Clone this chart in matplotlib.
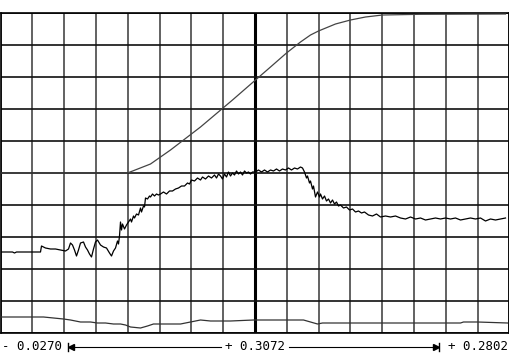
#!/usr/bin/env python
# -*- coding: utf-8 -*-

import matplotlib
matplotlib.use('Agg')
import matplotlib.pyplot as plt
from matplotlib.lines import Line2D
import numpy as np

# screen is 509 samples wide, 320 counts tall (16 x 10 divisions)
X_MAX = 509
Y_MAX = 320
N_XDIV = 16
N_YDIV = 10

# cursor readouts shown under the screen
left_label = '- 0.0270'
mid_label = '+ 0.3072'
right_label = '+ 0.2802'

# trace 1: smooth rise
rise_x = [0, 127, 150, 170, 200, 232, 255, 270, 286, 300, 310, 318, 335, 350, 365, 382, 420, 505]
rise_y = [160, 160, 169, 183, 206, 233, 253, 266, 280, 291, 298, 302, 309, 313, 316, 318, 318.7, 319]

# trace 2: noisy signal
noisy_x = [0, 12, 14, 16, 40, 41, 45, 50, 55, 60, 65, 68, 70, 72, 74, 76, 78, 80, 83, 85,
           87, 89, 91, 93, 95, 97, 100, 103, 106, 109, 111, 113, 115, 117, 118, 119, 120, 121, 122, 124,
           126, 128, 130, 131, 133, 134, 136, 138, 140, 141, 143, 144, 145, 147, 149, 150, 152, 154, 156, 158,
           160, 163, 166, 169, 172, 175, 178, 181, 184, 187, 189, 191, 194, 197, 200, 202, 205, 208, 211, 214,
           216, 218, 220, 222, 224, 226, 228, 230, 232, 234, 236, 238, 240, 242, 244, 246, 248, 250, 252, 255,
           258, 261, 264, 267, 270, 273, 276, 279, 282, 285, 288, 291, 294, 297, 300, 302, 304, 306, 307, 309,
           310, 312, 313, 315, 317, 319, 320, 322, 324, 326, 328, 330, 332, 334, 336, 338, 340, 343, 346, 349,
           352, 355, 358, 361, 364, 368, 372, 376, 380, 385, 390, 395, 400, 405, 410, 415, 420, 425, 430, 435,
           440, 445, 450, 455, 460, 465, 470, 475, 480, 485, 490, 495, 500, 505]
noisy_y = [81, 81, 80, 81, 81, 87, 85, 84, 84, 83, 82, 84, 90, 88, 83, 77, 83, 90, 91, 86,
           83, 79, 76, 84, 91, 93, 88, 86, 85, 80, 77, 82, 85, 92, 89, 97, 111, 103, 109, 104,
           108, 111, 114, 111, 117, 115, 119, 118, 125, 121, 127, 126, 135, 134, 137, 136, 139, 137, 139, 138,
           139, 141, 139, 142, 142, 144, 145, 147, 147, 150, 149, 153, 152, 155, 153, 156, 154, 157, 155, 158,
           155, 159, 157, 154, 159, 156, 161, 157, 160, 158, 162, 159, 161, 158, 162, 160, 161, 159, 161, 161,
           163, 161, 163, 161, 163, 162, 164, 162, 164, 163, 165, 163, 165, 164, 166, 165, 161, 155, 157, 150,
           152, 144, 147, 136, 141, 136, 139, 134, 137, 132, 134, 130, 133, 129, 131, 127, 128, 125, 126, 123,
           124, 121, 122, 120, 121, 118, 117, 119, 116, 117, 116, 117, 115, 114, 116, 114, 115, 113, 114, 115,
           114, 115, 114, 115, 113, 114, 115, 114, 115, 112, 114, 113, 114, 115]

# trace 3: low level near the bottom
low_x = [0, 43, 63, 70, 80, 90, 97, 105, 113, 120, 125, 130, 140, 147, 153, 180, 190, 200, 210, 230,
         253, 303, 310, 317, 322, 333, 460, 463, 477, 507]
low_y = [16, 16, 14, 13, 11, 11, 10, 10, 9, 9, 8, 6, 5, 7, 9, 9, 11, 13, 12, 12,
         13, 13, 11, 9, 10, 10, 10, 11, 11, 10]


def draw_screen(ax):
	# grid lines
	for k in range(N_XDIV + 1):
		xv = k * X_MAX / N_XDIV
		if k == N_XDIV // 2:
			ax.axvline(xv, color='black', lw=2.2, zorder=1)
		else:
			ax.axvline(xv, color='#555555', lw=1.3, zorder=1)
	for k in range(N_YDIV + 1):
		ax.axhline(k * Y_MAX / N_YDIV, color='#111111', lw=1.2, zorder=1)

	# traces
	ax.plot(rise_x, rise_y, color='#444444', lw=0.9, zorder=3)
	ax.plot(noisy_x, noisy_y, color='black', lw=0.9, zorder=3)
	ax.plot(low_x, low_y, color='#333333', lw=0.9, zorder=3)

	ax.set_xlim(0, X_MAX)
	ax.set_ylim(0, Y_MAX)
	ax.set_xticks([])
	ax.set_yticks([])
	for s in ax.spines.values():
		s.set_color('black')
		s.set_linewidth(1.2)


def draw_readout(fig):
	W, H = 510.0, 364.0
	ty = (H - 347) / H
	fnt = dict(family='DejaVu Sans Mono', fontsize=9, va='center', color='black')
	fig.text(2 / W, ty, left_label, ha='left', **fnt)
	fig.text(255 / W, ty, mid_label, ha='center', **fnt)
	fig.text(508 / W, ty, right_label, ha='right', **fnt)

	# left arrow |<-----
	fig.add_artist(Line2D([68 / W, 68 / W], [ty - 4 / H, ty + 4 / H], color='black', lw=1))
	fig.add_artist(Line2D([70 / W, 221 / W], [ty, ty], color='black', lw=0.8))
	fig.add_artist(Line2D([70.5 / W], [ty], marker='<', markersize=4.5, color='black', lw=0))
	# right arrow ----->|
	fig.add_artist(Line2D([289 / W, 437 / W], [ty, ty], color='black', lw=0.8))
	fig.add_artist(Line2D([436.5 / W], [ty], marker='>', markersize=4.5, color='black', lw=0))
	fig.add_artist(Line2D([439 / W, 439 / W], [ty - 4 / H, ty + 4 / H], color='black', lw=1))


if __name__ == "__main__":
	fig = plt.figure(figsize=(5.10, 3.64), dpi=100)
	fig.patch.set_facecolor('white')
	ax = fig.add_axes([0.5 / 510, (364 - 333) / 364.0, 509 / 510.0, 320 / 364.0])
	draw_screen(ax)
	draw_readout(fig)
	fig.savefig('out.png', dpi=100, facecolor='white')
